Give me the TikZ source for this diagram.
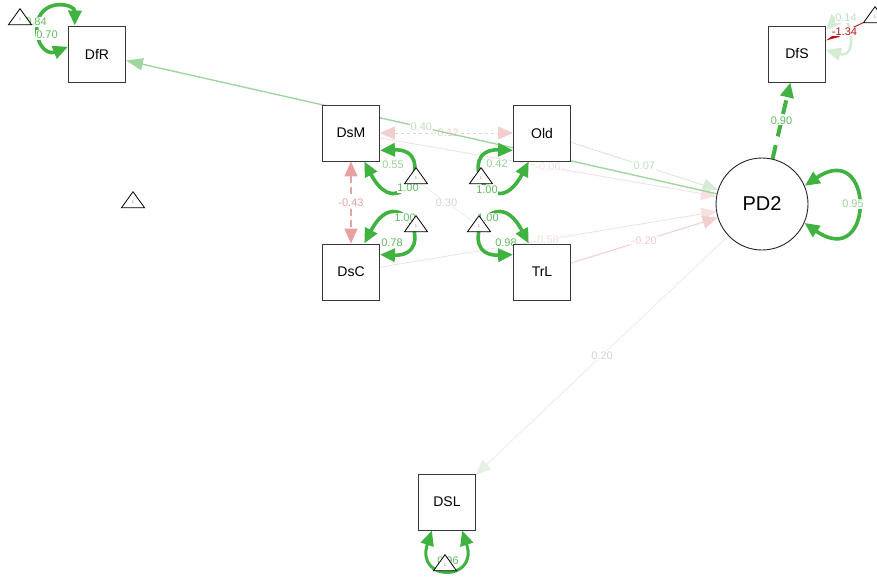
\documentclass[tikz,border=0pt]{standalone}
\usepackage{fontspec}
\setmainfont{Liberation Sans}
\usetikzlibrary{arrows.meta,shapes.geometric}

\pgfdeclarelayer{back}
\pgfdeclarelayer{edges}
\pgfsetlayers{back,edges,main}

\definecolor{gstrong}{RGB}{64,178,64}
\definecolor{gmid}{RGB}{160,214,160}
\definecolor{gfaint}{RGB}{212,235,212}
\definecolor{gpale}{RGB}{228,241,228}
\definecolor{gtxt}{RGB}{96,188,96}
\definecolor{gtxtl}{RGB}{150,212,150}
\definecolor{gtxtf}{RGB}{192,226,192}
\definecolor{pmid}{RGB}{232,160,160}
\definecolor{pfaint}{RGB}{242,206,206}
\definecolor{ppale}{RGB}{246,224,224}
\definecolor{dred}{RGB}{185,20,20}
\definecolor{greyf}{RGB}{212,212,212}

\begin{document}
\begin{tikzpicture}[x=1pt,y=-1pt,
  var/.style={draw=black!78, line width=0.9pt, fill=white, minimum width=57pt,
    minimum height=56pt, inner sep=0pt, font=\fontsize{14}{16}\selectfont},
  lat/.style={circle, draw=black!85, line width=0.9pt, fill=white,
    minimum size=92pt, inner sep=0pt, font=\fontsize{20}{22}\selectfont},
  icpt/.style={isosceles triangle, isosceles triangle stretches,
    shape border rotate=90, minimum width=23pt, minimum height=16pt,
    draw=black, line width=0.8pt, fill=white, inner sep=0pt,
    font=\fontsize{4}{4}\selectfont, text=black!50},
  lab/.style={fill=white, inner sep=0.7pt, font=\fontsize{11}{13}\selectfont},
  tip/.style={-{Triangle[length=15pt,width=13pt]}},
  tips/.style={{Triangle[length=15pt,width=13pt]}-{Triangle[length=15pt,width=13pt]}},
  vloop/.style={draw=gstrong, line width=3.6pt, tips},
]
\useasboundingbox (0,0) rectangle (877,576);
\begin{pgfonlayer}{back}
  \fill[white] (0,0) rectangle (877,576);
\end{pgfonlayer}

% observed variables and the latent factor
\node[var] (DfR) at (97,54) {DfR};
\node[var] (DsM) at (351,133) {DsM};
\node[var] (Old) at (542,133) {Old};
\node[var] (DsC) at (351,272) {DsC};
\node[var] (TrL) at (542,272) {TrL};
\node[var] (DfS) at (797,54) {DfS};
\node[var] (DSL) at (447,502) {DSL};
\node[lat] (PD2) at (762,204) {PD2};

\begin{pgfonlayer}{edges}
  % covariances among the exogenous variables
  \draw[pfaint, line width=0.8pt, dashed, tips] (DsM) -- node[lab, text=pfaint] (cMO) {-0.12} (Old);
  \draw[pmid, line width=1.5pt, dash pattern=on 7pt off 4pt, tips] (DsM) -- node[lab, text=pmid] (cMC) {-0.43} (DsC);
  \draw[gpale, line width=0.6pt] (DsM) -- node[lab, text=greyf] (cMT) {0.30} (TrL);

  % regressions on PD2
  \draw[gfaint, line width=0.9pt, tip] (Old) -- node[lab, text=gtxtf] (eOld) {0.07} (PD2);
  \draw[ppale, line width=0.9pt, tip] (DsM) -- node[lab, text=ppale] (eDsM) {-0.06} (PD2);
  \draw[ppale, line width=0.9pt, tip] (DsC) -- node[lab, text=ppale] (eDsC) {0.58} (PD2);
  \draw[pfaint, line width=1pt, tip] (TrL) -- node[lab, text=pfaint] (eTrL) {-0.20} (PD2);

  % loadings of PD2
  \draw[gmid, line width=1.4pt, -{Triangle[length=17pt,width=12pt]}] (PD2) -- node[lab, text=gtxtf] (eDfR) {0.40} (DfR);
  \draw[gstrong, line width=4pt, dash pattern=on 14pt off 9pt, tip] (PD2) -- node[lab, text=gtxt] (eDfS) {0.90} (DfS);
  \draw[gpale, line width=0.8pt, tip] (PD2) -- node[lab, text=greyf] (eDSL) {0.20} (DSL);

  % variances
  \draw[vloop] (DfR.128) .. controls (75,4) and (45,-2) .. (38,20) .. controls (33,40) and (45,56) .. (DfR.166);
  \node[lab, text=gtxt] (liDfR) at (36,22) {0.84};
  \node[lab, text=gtxt] (lvDfR) at (47,35) {0.70};

  \draw[vloop] (DsM.-31) .. controls (440,148) and (400,230) .. (DsM.-65);
  \node[lab, text=gtxtl] (lvDsM) at (393,165) {0.55};
  \node[lab, text=gtxt] (liDsM) at (408,188) {1.00};

  \draw[vloop] (Old.211) .. controls (453,148) and (493,230) .. (Old.245);
  \node[lab, text=gtxtl] (lvOld) at (497,164) {0.42};
  \node[lab, text=gtxt] (liOld) at (487,190) {1.00};

  \draw[vloop] (DsC.31) .. controls (440,257) and (400,175) .. (DsC.65);
  \node[lab, text=gtxt] (liDsC) at (405,218) {1.00};
  \node[lab, text=gtxt] (lvDsC) at (392,243) {0.78};

  \draw[vloop] (TrL.149) .. controls (453,257) and (493,175) .. (TrL.115);
  \node[lab, text=gtxt] (liTrL) at (488,218) {1.00};
  \node[lab, text=gtxt] (lvTrL) at (506,243) {0.98};

  \draw[vloop] (PD2.23) .. controls (875,138) and (875,272) .. (PD2.-24);
  \node[lab, text=gtxtl] (lvPD2) at (853,204) {0.95};

  \draw[vloop, line width=3pt] (DSL.-118) .. controls (415,582) and (479,582) .. (DSL.-62);
  \node[lab, text=gtxt] (lvDSL) at (448,561) {0.96};

  \draw[gfaint, line width=2.5pt, tips] (DfS.40) .. controls (850,5) and (860,60) .. (DfS.8);
  \node[lab, text=gtxtf] (lvDfS) at (846,18) {0.14};
\end{pgfonlayer}

% intercept triangles
\node[icpt] (iDfR) at (20,19) {1};
\node[icpt] (iPD2) at (133,202) {1};
\node[icpt] (iDsM) at (416,178) {1};
\node[icpt] (iOld) at (481,178) {1};
\node[icpt] (iDsC) at (416,226) {1};
\node[icpt] (iTrL) at (479,226) {1};
\node[icpt] (iDSL) at (445,565) {1};
\node[icpt] (iDfS) at (875,17) {1};

% intercept of DfS
\begin{pgfonlayer}{edges}
  \draw[dred, line width=0.9pt, -{Triangle[length=14pt,width=5pt]}] (iDfS) -- node[lab, text=dred] (liDfS) {-1.34} (DfS.25);
\end{pgfonlayer}
\end{tikzpicture}
\end{document}
